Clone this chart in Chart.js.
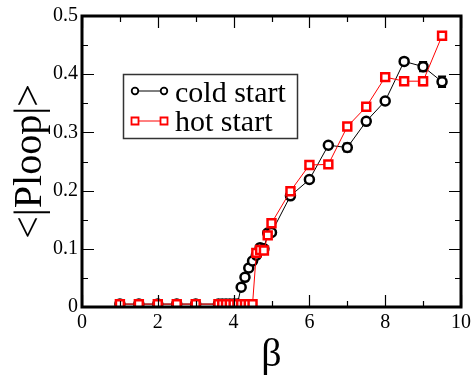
<html>
<head>
<meta charset="utf-8">
<script src="https://cdn.jsdelivr.net/npm/chart.js@4"></script>
</head>
<body style="margin:0">
<canvas id="myChart" width="475" height="377"></canvas>
<script>
// cold start data
var coldBeta = [1.0, 1.5, 2.0, 2.5, 3.0, 3.6, 3.7, 3.8, 3.9, 4.0, 4.1, 4.2, 4.3, 4.4, 4.5, 4.6, 4.7, 4.8, 4.9, 5.0, 5.5, 6.0, 6.5, 7.0, 7.5, 8.0, 8.5, 9.0, 9.5];
var coldLoop = [0.005, 0.005, 0.005, 0.005, 0.005, 0.005, 0.005, 0.005, 0.005, 0.005, 0.005, 0.034, 0.051, 0.067, 0.079, 0.089, 0.102, 0.100, 0.127, 0.128, 0.191, 0.219, 0.278, 0.274, 0.319, 0.354, 0.422, 0.413, 0.387];
var coldErr  = [0.001, 0.001, 0.001, 0.001, 0.001, 0.001, 0.001, 0.001, 0.001, 0.001, 0.001, 0.002, 0.002, 0.002, 0.002, 0.002, 0.003, 0.003, 0.003, 0.003, 0.003, 0.003, 0.004, 0.007, 0.005, 0.004, 0.003, 0.008, 0.009];

// hot start data
var hotBeta = [1.0, 1.5, 2.0, 2.5, 3.0, 3.6, 3.7, 3.8, 3.9, 4.0, 4.1, 4.2, 4.3, 4.4, 4.5, 4.6, 4.7, 4.8, 4.9, 5.0, 5.5, 6.0, 6.5, 7.0, 7.5, 8.0, 8.5, 9.0, 9.5];
var hotLoop = [0.005, 0.005, 0.005, 0.005, 0.005, 0.005, 0.005, 0.005, 0.005, 0.005, 0.005, 0.005, 0.005, 0.005, 0.005, 0.093, 0.098, 0.097, 0.123, 0.144, 0.199, 0.244, 0.245, 0.310, 0.344, 0.395, 0.388, 0.388, 0.466];
var hotErr  = [0.001, 0.001, 0.001, 0.001, 0.001, 0.001, 0.001, 0.001, 0.001, 0.001, 0.001, 0.001, 0.001, 0.001, 0.001, 0.003, 0.003, 0.003, 0.003, 0.003, 0.003, 0.003, 0.005, 0.004, 0.004, 0.003, 0.006, 0.007, 0.003];

var seriesNames = ["cold start", "hot start"];
var xTitle = "\u03B2";
var yTitle = "<|Ploop|>";

var serifFont = "'Liberation Serif'";

function toPoints(xs, ys) {
    let pts = [];
    for (let i = 0; i < xs.length; i++) {
        pts.push({ x: xs[i], y: ys[i] });
    }
    return pts;
}

// error bars, drawn through the scales
var errorBars = {
    id: 'errorBars',
    beforeDatasetsDraw(chart) {
        const ctx = chart.ctx;
        const xs = chart.scales.x, ys = chart.scales.y;
        const sets = [[coldBeta, coldLoop, coldErr, '#000'], [hotBeta, hotLoop, hotErr, '#ff0000']];
        ctx.save();
        sets.forEach(s => {
            ctx.strokeStyle = s[3];
            ctx.lineWidth = 2;
            for (let i = 0; i < s[0].length; i++) {
                let px = xs.getPixelForValue(s[0][i]);
                let y1 = ys.getPixelForValue(s[1][i] - s[2][i]);
                let y2 = ys.getPixelForValue(s[1][i] + s[2][i]);
                ctx.beginPath();
                ctx.moveTo(px, y1); ctx.lineTo(px, y2);
                ctx.moveTo(px - 4, y1); ctx.lineTo(px + 4, y1);
                ctx.moveTo(px - 4, y2); ctx.lineTo(px + 4, y2);
                ctx.stroke();
            }
        });
        ctx.restore();
    }
};

// frame, inward ticks on all sides, and the legend box
var frame = {
    id: 'frame',
    afterDraw(chart) {
        const ctx = chart.ctx;
        const a = chart.chartArea;
        const xs = chart.scales.x, ys = chart.scales.y;
        ctx.save();
        ctx.strokeStyle = '#000';
        ctx.lineWidth = 1.2;
        ctx.beginPath();
        for (let v = 0; v <= 10; v += 1) {
            let px = Math.round(xs.getPixelForValue(v)) + 0.5;
            let len = (v % 2 === 0) ? 12 : 6;
            ctx.moveTo(px, a.bottom); ctx.lineTo(px, a.bottom - len);
            ctx.moveTo(px, a.top); ctx.lineTo(px, a.top + len);
        }
        for (let k = 0; k <= 10; k++) {
            let v = k * 0.05;
            let py = Math.round(ys.getPixelForValue(v)) + 0.5;
            let len = (k % 2 === 0) ? 12 : 6;
            ctx.moveTo(a.left, py); ctx.lineTo(a.left + len, py);
            ctx.moveTo(a.right, py); ctx.lineTo(a.right - len, py);
        }
        ctx.stroke();

        ctx.lineWidth = 3;
        ctx.strokeRect(a.left, a.top, a.right - a.left, a.bottom - a.top);

        // legend
        ctx.lineWidth = 1.5;
        ctx.strokeStyle = '#333';
        ctx.strokeRect(123.5, 74.5, 174, 64);
        const rows = [
            { y: 91, color: '#000', shape: 'circle', label: seriesNames[0], base: 102 },
            { y: 121, color: '#ff0000', shape: 'rect', label: seriesNames[1], base: 131 }
        ];
        rows.forEach(r => {
            ctx.strokeStyle = r.color;
            ctx.lineWidth = 1;
            ctx.beginPath();
            ctx.moveTo(135, r.y); ctx.lineTo(164, r.y);
            ctx.stroke();
            ctx.lineWidth = 1.8;
            [135, 164].forEach(mx => {
                ctx.fillStyle = '#fff';
                ctx.beginPath();
                if (r.shape === 'circle') {
                    ctx.arc(mx, r.y, 3.3, 0, 2 * Math.PI);
                } else {
                    ctx.rect(mx - 3.5, r.y - 3.5, 7, 7);
                }
                ctx.fill();
                ctx.stroke();
            });
            ctx.fillStyle = '#000';
            ctx.font = '30px ' + serifFont;
            ctx.textBaseline = 'alphabetic';
            ctx.textAlign = 'left';
            ctx.fillText(r.label, 175, r.base);
        });
        ctx.restore();
    }
};

var chartCtx = document.getElementById('myChart').getContext('2d');
var myChart = new Chart(chartCtx, {
    type: 'line',
    data: {
        datasets: [{
            label: seriesNames[0],
            data: toPoints(coldBeta, coldLoop),
            borderColor: '#000',
            borderWidth: 1,
            pointStyle: 'circle',
            pointRadius: 4.5,
            pointBorderWidth: 2.5,
            pointBackgroundColor: '#fff',
            pointBorderColor: '#000',
            tension: 0,
            order: 1
        }, {
            label: seriesNames[1],
            data: toPoints(hotBeta, hotLoop),
            borderColor: '#ff0000',
            borderWidth: 1,
            pointStyle: 'rect',
            pointRadius: 5.6,
            pointBorderWidth: 2.5,
            pointBackgroundColor: '#fff',
            pointBorderColor: '#ff0000',
            tension: 0,
            order: 0
        }]
    },
    options: {
        responsive: false,
        animation: false,
        layout: { padding: { top: 15, right: 12, left: 0, bottom: 0 } },
        plugins: {
            legend: { display: false },
            tooltip: { enabled: false }
        },
        scales: {
            x: {
                type: 'linear',
                min: 0, max: 10,
                afterFit: s => { s.height = 70; },
                grid: { display: false, drawTicks: false },
                border: { display: false },
                ticks: { stepSize: 2, padding: 4, color: '#000', font: { family: serifFont, size: 20 } },
                title: { display: true, text: xTitle, color: '#000', padding: { top: 0, bottom: 2 },
                         font: { family: serifFont, size: 40, lineHeight: 1 } }
            },
            y: {
                min: 0, max: 0.5,
                afterFit: s => { s.width = 82; },
                grid: { display: false, drawTicks: false },
                border: { display: false },
                ticks: { stepSize: 0.1, padding: 4, color: '#000', font: { family: serifFont, size: 20 } },
                title: { display: true, text: yTitle, color: '#000', padding: { top: 10, bottom: 0 },
                         font: { family: serifFont, size: 40, lineHeight: 1 } }
            }
        }
    },
    plugins: [errorBars, frame]
});
</script>
</body>
</html>
